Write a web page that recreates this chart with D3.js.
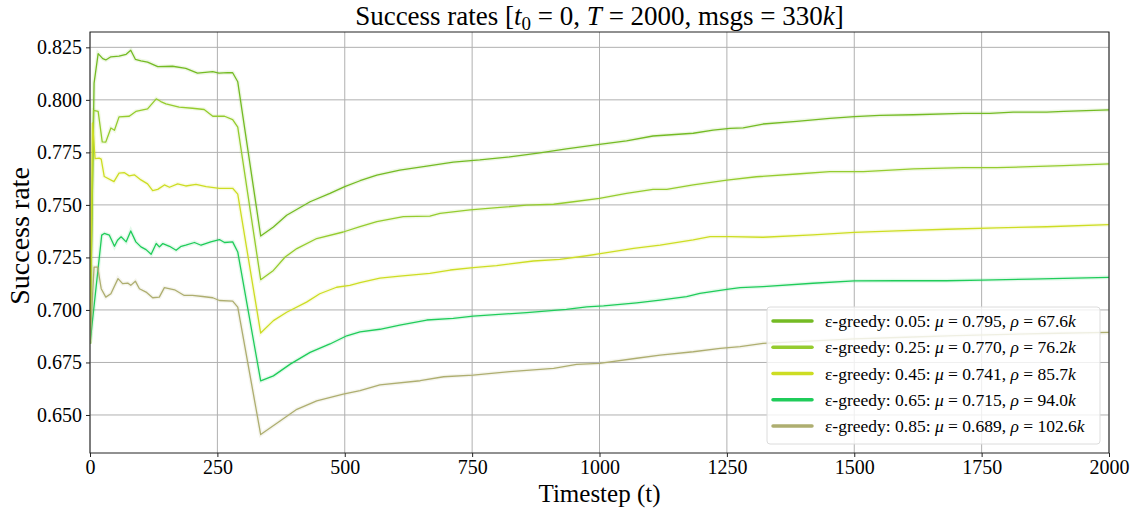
<!DOCTYPE html>
<html>
<head>
<meta charset="utf-8">
<script src="https://cdn.jsdelivr.net/npm/d3@7"></script>
<style>
  html, body { margin: 0; padding: 0; background: #fff; }
  svg { display: block; font-family: "Liberation Serif", "DejaVu Serif", serif; }
</style>
</head>
<body>
<svg id="chart" width="1137" height="513"></svg>
<script>
// Success rate per epsilon setting, as [timestep, rate] pairs
const eps005 = [[0,0.684],[8,0.808],[16,0.822],[25,0.8196],[31,0.819],[41,0.8205],[57,0.8208],[71,0.8217],[80,0.8236],[89,0.8193],[100,0.8186],[113,0.818],[133,0.8158],[162,0.816],[188,0.815],[211,0.8127],[241,0.8134],[253,0.8127],[270,0.813],[280,0.8129],[290,0.8086],[335,0.7352],[360,0.7395],[386,0.7451],[432,0.7515],[471,0.7555],[500,0.7587],[530,0.7615],[563,0.7642],[608,0.7666],[661,0.7685],[713,0.7704],[765,0.7714],[824,0.7729],[883,0.7748],[935,0.7767],[1000,0.7788],[1053,0.7805],[1105,0.7828],[1184,0.7841],[1223,0.7856],[1256,0.7864],[1282,0.7867],[1321,0.7885],[1387,0.7898],[1452,0.7912],[1500,0.792],[1550,0.7926],[1616,0.7929],[1714,0.7936],[1766,0.7936],[1812,0.7942],[1878,0.7942],[1911,0.7945],[2000,0.7952]];
const eps025 = [[0,0.684],[7,0.795],[16,0.7945],[24,0.780],[31,0.7799],[41,0.7866],[48,0.7855],[57,0.7919],[77,0.7922],[90,0.7945],[113,0.7957],[130,0.8005],[139,0.7992],[149,0.7981],[175,0.7965],[201,0.796],[224,0.7954],[241,0.7922],[264,0.7922],[280,0.7906],[290,0.787],[335,0.7144],[360,0.7188],[383,0.7252],[406,0.7292],[445,0.734],[497,0.7371],[530,0.7396],[563,0.742],[615,0.7444],[667,0.7447],[687,0.746],[746,0.7476],[805,0.7488],[857,0.7499],[910,0.7503],[949,0.7515],[1000,0.7531],[1053,0.7555],[1105,0.7574],[1132,0.7574],[1184,0.7595],[1250,0.7618],[1308,0.7634],[1387,0.7647],[1452,0.7658],[1518,0.7658],[1616,0.7671],[1714,0.7677],[1780,0.7677],[1846,0.7682],[1911,0.7687],[2000,0.7695]];
const eps045 = [[0,0.684],[5,0.789],[10,0.772],[18,0.7723],[22,0.7718],[28,0.7635],[47,0.7611],[57,0.7651],[67,0.7654],[77,0.7638],[87,0.7643],[100,0.7619],[113,0.76],[123,0.7568],[133,0.7574],[146,0.7595],[156,0.7584],[172,0.76],[188,0.759],[208,0.7598],[228,0.7587],[254,0.7579],[280,0.7579],[290,0.7551],[335,0.689],[360,0.6949],[386,0.6989],[425,0.7037],[451,0.7077],[484,0.7108],[510,0.7117],[530,0.713],[569,0.7151],[608,0.7161],[667,0.7174],[707,0.719],[752,0.7201],[798,0.7211],[870,0.7233],[922,0.7241],[975,0.7258],[1008,0.727],[1067,0.7293],[1119,0.7309],[1184,0.7333],[1217,0.7349],[1256,0.7349],[1321,0.7346],[1419,0.7357],[1500,0.7369],[1583,0.7376],[1681,0.7384],[1780,0.7391],[1878,0.7396],[2000,0.7406]];
const eps065 = [[0,0.684],[23,0.7356],[28,0.7364],[38,0.7356],[48,0.7303],[54,0.7332],[61,0.7348],[71,0.7324],[80,0.7376],[90,0.7324],[100,0.73],[110,0.7287],[120,0.7265],[130,0.7316],[136,0.73],[143,0.7316],[156,0.7303],[169,0.7284],[179,0.7303],[188,0.7308],[205,0.7321],[218,0.7308],[237,0.7324],[254,0.7335],[264,0.7321],[280,0.7324],[290,0.7276],[335,0.6662],[360,0.6686],[393,0.6742],[432,0.6798],[471,0.6838],[504,0.6877],[530,0.6896],[569,0.6908],[608,0.6928],[661,0.6952],[713,0.696],[752,0.6971],[857,0.6987],[935,0.7003],[975,0.7015],[1008,0.7019],[1073,0.7034],[1119,0.7047],[1171,0.7063],[1197,0.7079],[1250,0.7098],[1276,0.7106],[1321,0.7111],[1419,0.7127],[1500,0.7138],[1583,0.7139],[1681,0.7139],[1750,0.7142],[1846,0.7147],[1911,0.715],[2000,0.7155]];
const eps085 = [[0,0.684],[8,0.7204],[15,0.7204],[22,0.7101],[31,0.7061],[41,0.7077],[55,0.7149],[64,0.7125],[74,0.7128],[80,0.7117],[89,0.7137],[97,0.7101],[110,0.7085],[123,0.7058],[136,0.7061],[146,0.7106],[166,0.7096],[185,0.7069],[201,0.7069],[221,0.7064],[241,0.7058],[254,0.7045],[280,0.7042],[290,0.7013],[335,0.6407],[373,0.6471],[406,0.6527],[445,0.6567],[497,0.6599],[530,0.6616],[569,0.6643],[648,0.6663],[694,0.6682],[752,0.669],[824,0.6706],[910,0.6722],[955,0.6741],[1000,0.6746],[1073,0.677],[1119,0.6785],[1184,0.6801],[1237,0.6817],[1276,0.6825],[1321,0.6841],[1400,0.685],[1500,0.6862],[1600,0.687],[1700,0.6878],[1800,0.6884],[1900,0.6889],[2000,0.6893]];

const seriesNames = ["0.05", "0.25", "0.45", "0.65", "0.85"];
const seriesValues = [eps005, eps025, eps045, eps065, eps085];
const seriesMu = ["0.795", "0.770", "0.741", "0.715", "0.689"];
const seriesRho = ["67.6", "76.2", "85.7", "94.0", "102.6"];
const seriesColors = ["#74bb24", "#95cc2e", "#cddd23", "#1fcc5a", "#aeae70"];

const xTicks = [0, 250, 500, 750, 1000, 1250, 1500, 1750, 2000];
const yTicks = [0.650, 0.675, 0.700, 0.725, 0.750, 0.775, 0.800, 0.825];

const margin = { left: 90, right: 28, top: 32, bottom: 60 };
const W = 1137, H = 513;
const svg = d3.select("#chart");

const x = d3.scaleLinear().domain([0, 2000]).range([margin.left, W - margin.right]);
const y = d3.scaleLinear().domain([0.6319, 0.8323]).range([H - margin.bottom, margin.top]);

// grid
const grid = svg.append("g").attr("stroke", "#b0b0b0").attr("stroke-width", 1);
grid.selectAll("line.vx").data(xTicks).join("line")
  .attr("x1", d => x(d)).attr("x2", d => x(d))
  .attr("y1", margin.top).attr("y2", H - margin.bottom);
grid.selectAll("line.hy").data(yTicks).join("line")
  .attr("x1", margin.left).attr("x2", W - margin.right)
  .attr("y1", d => y(d)).attr("y2", d => y(d));

// lines
svg.append("defs").append("clipPath").attr("id", "plotclip")
  .append("rect").attr("x", margin.left).attr("y", margin.top)
  .attr("width", W - margin.left - margin.right).attr("height", H - margin.top - margin.bottom);

const line = d3.line().x(d => x(d[0])).y(d => y(d[1]));
const lines = svg.append("g").attr("clip-path", "url(#plotclip)");
seriesValues.forEach((vals, i) => {
  lines.append("path").datum(vals)
    .attr("fill", "none").attr("stroke", seriesColors[i]).attr("stroke-width", 4)
    .attr("stroke-opacity", 0.12).attr("d", line);
  lines.append("path").datum(vals)
    .attr("fill", "none").attr("stroke", seriesColors[i]).attr("stroke-width", 1.3)
    .attr("stroke-linejoin", "round").attr("d", line);
});

// axes
const xAxis = d3.axisBottom(x).tickValues(xTicks).tickFormat(d3.format("d")).tickSize(4).tickPadding(3);
const yAxis = d3.axisLeft(y).tickValues(yTicks).tickFormat(d3.format(".3f")).tickSize(4).tickPadding(4);

const gx = svg.append("g").attr("transform", `translate(0,${H - margin.bottom})`).call(xAxis);
const gy = svg.append("g").attr("transform", `translate(${margin.left},0)`).call(yAxis);
[gx, gy].forEach(g => {
  g.select(".domain").remove();
  g.selectAll(".tick line").attr("stroke", "#222").attr("stroke-width", 1);
  g.selectAll(".tick text").attr("fill", "#000").style("font-size", "20px")
    .style("font-family", "'Liberation Serif', serif");
});

// frame
svg.append("rect").attr("x", margin.left).attr("y", margin.top)
  .attr("width", W - margin.left - margin.right).attr("height", H - margin.top - margin.bottom)
  .attr("fill", "none").attr("stroke", "#222").attr("stroke-width", 1);

// title with math notation
const title = svg.append("text").attr("x", (margin.left + W - margin.right) / 2).attr("y", 25)
  .attr("text-anchor", "middle").style("font-size", "27px").attr("fill", "#000");
title.append("tspan").text("Success rates [");
title.append("tspan").attr("font-style", "italic").text("t");
title.append("tspan").attr("dy", 5).style("font-size", "19px").text("0");
title.append("tspan").attr("dy", -5).text(" = 0, ");
title.append("tspan").attr("font-style", "italic").text("T");
title.append("tspan").text(" = 2000, msgs = 330");
title.append("tspan").attr("font-style", "italic").text("k");
title.append("tspan").text("]");

// axis labels
svg.append("text").attr("x", (margin.left + W - margin.right) / 2).attr("y", 502)
  .attr("text-anchor", "middle").style("font-size", "25px").text("Timestep (t)");
svg.append("text").attr("transform", "translate(29,236) rotate(-90)")
  .attr("text-anchor", "middle").style("font-size", "28px").text("Success rate");

// legend
const lg = svg.append("g").attr("transform", "translate(767,307)");
lg.append("rect").attr("width", 333).attr("height", 137).attr("rx", 3)
  .attr("fill", "#fff").attr("fill-opacity", 0.8).attr("stroke", "#dcdcdc").attr("stroke-width", 1);
seriesNames.forEach((name, i) => {
  const yy = 14 + i * 26.25;
  lg.append("line").attr("x1", 6).attr("x2", 45).attr("y1", yy).attr("y2", yy)
    .attr("stroke", seriesColors[i]).attr("stroke-width", 3.5).attr("stroke-linecap", "round");
  const t = lg.append("text").attr("x", 58).attr("y", yy + 6).style("font-size", "17.5px").attr("fill", "#000");
  t.append("tspan").text(`\u03b5-greedy: ${name}: `);
  t.append("tspan").attr("font-style", "italic").text("\u03bc");
  t.append("tspan").text(` = ${seriesMu[i]}, `);
  t.append("tspan").attr("font-style", "italic").text("\u03c1");
  t.append("tspan").text(` = ${seriesRho[i]}`);
  t.append("tspan").attr("font-style", "italic").text("k");
});
</script>
</body>
</html>
